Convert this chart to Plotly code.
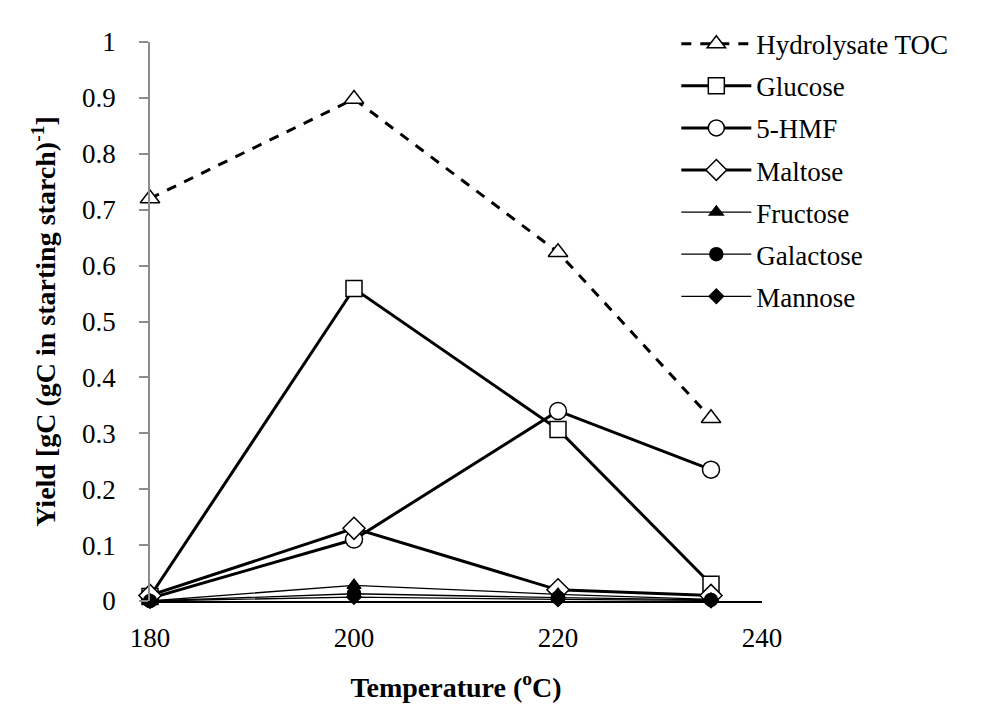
import plotly.graph_objects as go

temps = [180, 200, 220, 235]
toc = [0.72, 0.898, 0.624, 0.327]
glucose = [0.008, 0.559, 0.307, 0.030]
hmf = [0.005, 0.110, 0.340, 0.235]
maltose = [0.010, 0.130, 0.020, 0.010]
fructose = [0.0, 0.028, 0.012, 0.003]
galactose = [0.0, 0.013, 0.006, 0.002]
mannose = [0.0, 0.007, 0.003, 0.001]

FONT = "Liberation Serif"

series = [
    ("Hydrolysate TOC", toc, "triangle-up", "white", 17, 3, "10px,9px"),
    ("Glucose", glucose, "square", "white", 16, 3, "solid"),
    ("5-HMF", hmf, "circle", "white", 17, 3, "solid"),
    ("Maltose", maltose, "diamond", "white", 17, 3, "solid"),
    ("Fructose", fructose, "triangle-up", "black", 12, 1.3, "solid"),
    ("Galactose", galactose, "circle", "black", 13, 1.3, "solid"),
    ("Mannose", mannose, "diamond", "black", 11, 1.3, "solid"),
]

fig = go.Figure()
for name, vals, sym, fill, size, lw, dash in series:
    fig.add_trace(go.Scatter(
        x=temps, y=vals, name=name, mode="lines+markers", legendgroup=name,
        line=dict(color="black", width=lw, dash=dash),
        marker=dict(symbol=sym, size=size, color=fill,
                    line=dict(color="black", width=1.5)),
        cliponaxis=False,
    ))

fig.update_layout(
    width=983, height=713,
    margin=dict(l=142, r=229, t=24, b=120),
    paper_bgcolor="white", plot_bgcolor="white",
    font=dict(family=FONT, size=27, color="black"),
    showlegend=True,
    legend=dict(x=0.86, y=1.04, xanchor="left", yanchor="top",
                font=dict(family=FONT, size=27, color="black"),
                bgcolor="rgba(0,0,0,0)", itemwidth=70, tracegroupgap=4),
    xaxis=dict(range=[180, 240], tickvals=[180, 200, 220, 240],
               showline=True, linecolor="black", linewidth=1.5,
               showgrid=False, zeroline=False, ticks="",
               ticklabelstandoff=12,
               tickfont=dict(family=FONT, size=27, color="black"),
               title=dict(text="<b>Temperature (<sup>o</sup>C)</b>", standoff=25,
                          font=dict(family=FONT, size=28))),
    yaxis=dict(range=[0, 1], dtick=0.1, tickformat="~g",
               showline=True, linecolor="#8c8c8c", linewidth=1.5,
               showgrid=False, zeroline=False,
               ticks="outside", ticklen=9, tickcolor="#8c8c8c", tickwidth=1.5,
               ticklabelstandoff=18,
               tickfont=dict(family=FONT, size=27, color="black"),
               title=dict(text="<b>Yield [gC (gC in starting starch)<sup>-1</sup>]</b>",
                          standoff=18, font=dict(family=FONT, size=28))),
)

fig.write_html("out.html")
